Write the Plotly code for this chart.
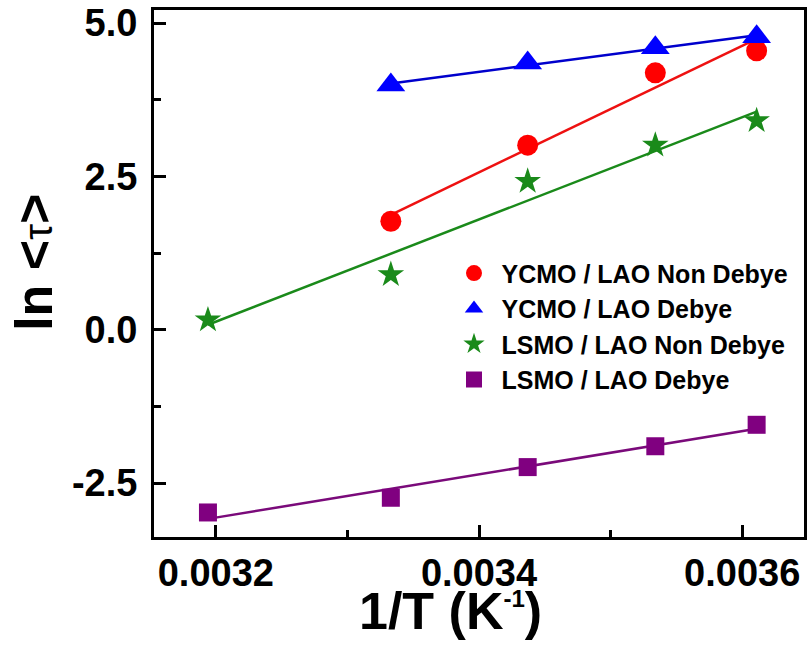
import numpy as np
import plotly.graph_objects as go

# Inverse temperature 1/T (K^-1)
inv_t = [0.003194, 0.003333, 0.003437, 0.003534, 0.003611]

# ln <tau> for each sample
ycmo_non_debye = [1.77, 3.01, 4.19, 4.55]      # measured at inv_t[1:]
ycmo_debye = [3.99, 4.35, 4.60, 4.78]          # measured at inv_t[1:]
lsmo_non_debye = [0.16, 0.90, 2.42, 3.01, 3.41]
lsmo_debye = [-2.98, -2.74, -2.24, -1.90, -1.55]

series_names = ["YCMO / LAO Non Debye", "YCMO / LAO Debye",
                "LSMO / LAO Non Debye", "LSMO / LAO Debye"]

y_tickvals = [-2.5, 0.0, 2.5, 5.0]
y_ticktext = ["-2.5", "0.0", "2.5", "5.0"]
x_tickvals = [0.0032, 0.0034, 0.0036]
x_ticktext = ["0.0032", "0.0034", "0.0036"]

FONT = "Liberation Sans, Arial, sans-serif"

series = [
    (inv_t[1:], ycmo_non_debye, series_names[0], "#ff0000", "#ee1111", "circle", 21),
    (inv_t[1:], ycmo_debye, series_names[1], "#0000ff", "#0000cc", "triangle-up", 25),
    (inv_t, lsmo_non_debye, series_names[2], "#1a8a1a", "#1a8a1a", "star", 20),
    (inv_t, lsmo_debye, series_names[3], "#800080", "#7a0a7a", "square", 18),
]

fig = go.Figure()

# Linear (Arrhenius) fits drawn over the measured range
for xs, ys, name, mcol, lcol, sym, size in series:
    k, b = np.polyfit(xs, ys, 1)
    xf = np.array([min(xs), max(xs)])
    fig.add_trace(go.Scatter(x=xf, y=k * xf + b, mode="lines",
                             line=dict(color=lcol, width=2.5),
                             showlegend=False, hoverinfo="skip"))

for xs, ys, name, mcol, lcol, sym, size in series:
    fig.add_trace(go.Scatter(x=xs, y=ys, mode="markers", name=name,
                             marker=dict(symbol=sym, size=size, color=mcol,
                                         line=dict(width=0))))

axis_common = dict(
    showline=True, linecolor="black", linewidth=3, mirror=True,
    ticks="inside", tickcolor="black", tickwidth=2.5, ticklen=12,
    showgrid=False, zeroline=False, ticklabeloverflow="allow",
    tickfont=dict(family=FONT, size=38, color="black", weight="bold"),
)

fig.update_xaxes(range=[0.003153, 0.003647], tickvals=x_tickvals,
                 ticktext=x_ticktext,
                 minor=dict(ticks="inside", ticklen=7, tickwidth=2.5,
                            tickcolor="black", dtick=0.0001, tick0=0.0032),
                 **axis_common)
fig.update_yaxes(range=[-3.38, 5.215], tickvals=y_tickvals,
                 ticktext=y_ticktext, ticklabelstandoff=6,
                 minor=dict(ticks="inside", ticklen=7, tickwidth=2.5,
                            tickcolor="black", dtick=1.25, tick0=0),
                 **axis_common)

fig.add_annotation(text="1/T (K<sup><span style='font-size:24px'>-1</span></sup>)",
                   xref="paper", yref="paper",
                   x=0.4564, y=-0.14, xanchor="center", yanchor="middle",
                   showarrow=False,
                   font=dict(family=FONT, size=52, color="black", weight="bold"))
fig.add_annotation(text="ln &lt;<span style='font-weight:normal;font-size:40px'>τ</span>&gt;",
                   xref="paper", yref="paper", x=-0.185, y=0.5216,
                   xanchor="center", yanchor="middle", textangle=-90,
                   showarrow=False,
                   font=dict(family=FONT, size=52, color="black", weight="bold"))

fig.update_layout(
    width=810, height=653,
    margin=dict(l=154, r=3, t=5, b=116),
    paper_bgcolor="white", plot_bgcolor="white",
    showlegend=True,
    legend=dict(x=0.45, y=0.544, xanchor="left", yanchor="top",
                bgcolor="rgba(0,0,0,0)", borderwidth=0,
                font=dict(family=FONT, size=25, color="black", weight="bold"),
                itemwidth=45),
)

fig.write_html("out.html")
